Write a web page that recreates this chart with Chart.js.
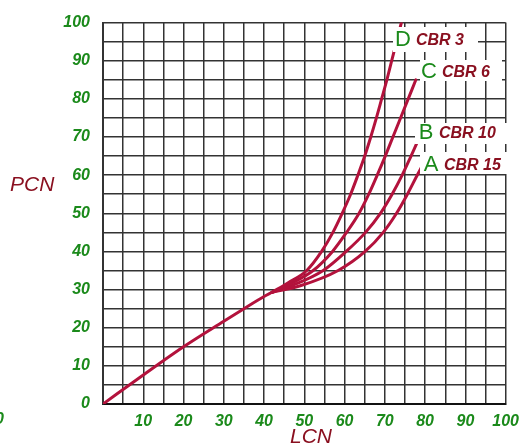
<!DOCTYPE html>
<html>
<head>
<meta charset="utf-8">
<script src="https://cdn.jsdelivr.net/npm/chart.js@4"></script>
<style>
  html, body { margin: 0; padding: 0; background: #fff; }
  #wrap { width: 527px; height: 446px; position: relative; }
</style>
</head>
<body>
<div id="wrap"><canvas id="c" width="527" height="446"></canvas></div>
<script>
// ---- data ----
const baseLCN = [0, 10, 20, 30, 35, 40, 42];
const basePCN = [0, 7.6, 15, 21.7, 25, 28.2, 29.3];

const curveD_LCN = [42, 46, 50.6, 54.3, 57.1, 59.4, 61.5, 63.3, 65.0, 66.5, 67.9, 69.2, 70.5, 71.7, 72.9, 74.1];
const curveD_PCN = [29.3, 31.8, 35, 40, 45, 50, 55, 60, 65, 70, 75, 80, 85, 90, 95, 100];

const curveC_LCN = [42, 46.5, 52.2, 57, 60.5, 63.6, 66.0, 68.1, 70.1, 72.0, 73.9, 75.8, 77.7];
const curveC_PCN = [29.3, 31.5, 35, 40, 45, 50, 55, 60, 65, 70, 75, 80, 85];

const curveB_LCN = [42, 47.3, 54.7, 60.4, 65.2, 68.9, 71.8, 74.3, 76.5, 78];
const curveB_PCN = [29.3, 31.2, 35, 40, 45, 50, 55, 60, 65, 68.5];

const curveA_LCN = [42, 49, 58.4, 65.1, 69.6, 72.9, 75.6, 77.8, 79.3];
const curveA_PCN = [29.3, 31, 35, 40, 45, 50, 55, 59.5, 62.5];

const curveLetters = ['D', 'C', 'B', 'A'];
const curveNames = ['CBR 3', 'CBR 6', 'CBR 10', 'CBR 15'];

const xTickValues = [10, 20, 30, 40, 50, 60, 70, 80, 90, 100];
const yTickValues = [0, 10, 20, 30, 40, 50, 60, 70, 80, 90, 100];
const xTitle = 'LCN';
const yTitle = 'PCN';

// ---- build ----
function pts(xs, ys) { return xs.map((x, i) => ({ x: x, y: ys[i] })); }
const RED = '#b3123c';
const GREEN = '#1b8a1b';
const DARKRED = '#8a1020';

function ds(xs, ys) {
  return {
    data: pts(xs, ys),
    showLine: true,
    borderColor: RED,
    borderWidth: 3,
    pointRadius: 0,
    fill: false,
    cubicInterpolationMode: 'monotone',
    borderCapStyle: 'round',
    borderJoinStyle: 'round'
  };
}

const labelPlugin = {
  id: 'labels',
  afterDatasetsDraw(chart) {
    const ctx = chart.ctx;
    ctx.save();
    const boxes = [
      [393, 27, 85, 25, 403, 40],
      [420, 60, 82, 21, 429, 72],
      [415, 123, 95, 21, 426, 133],
      [420, 152, 92, 22, 431, 165]
    ];
    boxes.forEach((b, i) => {
      ctx.fillStyle = '#fff';
      ctx.fillRect(b[0], b[1], b[2], b[3]);
      ctx.fillStyle = GREEN;
      ctx.font = '22px "Liberation Sans", Arial, sans-serif';
      ctx.textAlign = 'center';
      ctx.textBaseline = 'middle';
      ctx.fillText(curveLetters[i], b[4], b[5]);
      ctx.fillStyle = DARKRED;
      ctx.font = 'italic bold 16px "Liberation Sans", Arial, sans-serif';
      ctx.textAlign = 'left';
      ctx.fillText(curveNames[i], b[4] + 13, b[5] + 1);
    });
    ctx.fillStyle = DARKRED;
    ctx.font = 'italic 21px "Liberation Sans", Arial, sans-serif';
    ctx.textAlign = 'left';
    ctx.textBaseline = 'middle';
    ctx.fillText(yTitle, 10, 185);
    ctx.fillText(xTitle, 290, 437);
    ctx.fillStyle = GREEN;
    ctx.font = 'italic bold 16px "Liberation Sans", Arial, sans-serif';
    ctx.fillText('0', -5, 420);
    ctx.restore();
  }
};

const tickFont = { family: '"Liberation Sans", Arial, sans-serif', size: 16, weight: 'bold', style: 'italic' };

new Chart(document.getElementById('c'), {
  type: 'scatter',
  data: {
    datasets: [
      ds(baseLCN, basePCN),
      ds(curveD_LCN, curveD_PCN),
      ds(curveC_LCN, curveC_PCN),
      ds(curveB_LCN, curveB_PCN),
      ds(curveA_LCN, curveA_PCN)
    ]
  },
  options: {
    responsive: false,
    animation: false,
    layout: { padding: { top: 22, right: 15, left: 0, bottom: 0 } },
    plugins: { legend: { display: false }, tooltip: { enabled: false } },
    scales: {
      x: {
        type: 'linear', min: 0, max: 100,
        afterFit(s) { s.height = 42; },
        border: { display: true, color: '#111', width: 2 },
        grid: { color: '#333', lineWidth: 1.5, drawTicks: false },
        ticks: {
          stepSize: 5, autoSkip: false, maxRotation: 0, padding: 8,
          color: GREEN, font: tickFont,
          callback: v => xTickValues.includes(v) ? String(v) : ''
        }
      },
      y: {
        type: 'linear', min: 0, max: 100,
        afterFit(s) { s.width = 103; },
        border: { display: true, color: '#333', width: 2 },
        grid: { color: '#333', lineWidth: 1.5, drawTicks: false },
        ticks: {
          stepSize: 5, autoSkip: false, padding: 13,
          color: GREEN, font: tickFont,
          callback: v => yTickValues.includes(v) ? String(v) : ''
        }
      }
    }
  },
  plugins: [labelPlugin]
});
</script>
</body>
</html>
